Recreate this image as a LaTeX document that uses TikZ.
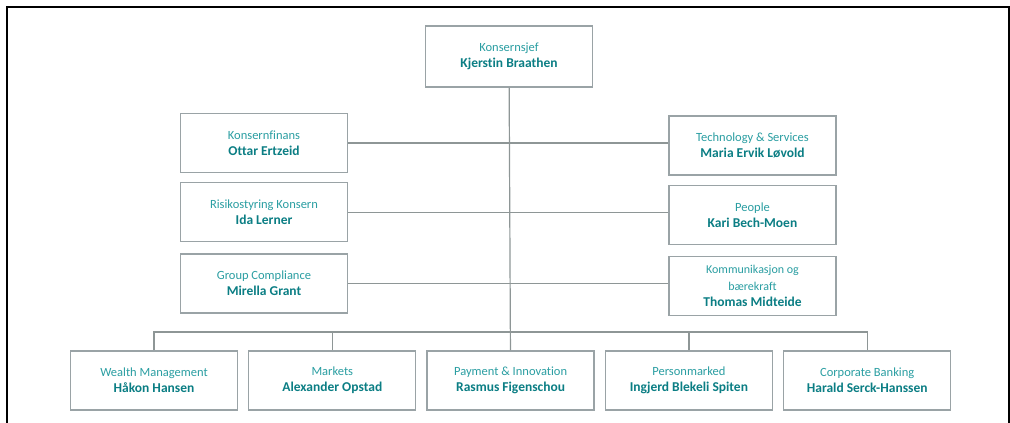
\documentclass[tikz,border=0pt]{standalone}
\usepackage{fontspec}
\setmainfont{Carlito}[Ligatures=NoCommon]
\usetikzlibrary{positioning}

\definecolor{boxgray}{HTML}{9AA3A6}
\definecolor{linegray}{HTML}{8E9696}
\definecolor{titleteal}{HTML}{2A9EA2}
\definecolor{nameteal}{HTML}{0B7E84}

\newcommand{\who}[1]{{\fontsize{13.5}{16}\selectfont\bfseries\color{nameteal}#1}}

\begin{document}
\begin{tikzpicture}[x=1pt,y=-1pt,node distance=10pt,
  unit/.style={draw=boxgray,line width=1.3pt,fill=white,minimum width=167pt,
    minimum height=59pt,inner sep=2pt,align=center,text=titleteal,
    font=\fontsize{12.5}{16}\selectfont},
  link/.style={draw=linegray,line width=1.2pt}]
\useasboundingbox (0,0) rectangle (1010,423);

% frame
\draw[line width=2pt] (7,423) -- (7,7) -- (1009,7) -- (1009,423);

% top
\node[unit,minimum height=61pt] (ceo) at (509,56.5) {Konsernsjef\\ \who{Kjerstin Braathen}};

% staff, left
\node[unit] (fin) at (264,143) {Konsernfinans\\ \who{Ottar Ertzeid}};
\node[unit,below=9pt of fin] (risk) {Risikostyring Konsern\\ \who{Ida Lerner}};
\node[unit,below=11pt of risk] (comp) {Group Compliance\\ \who{Mirella Grant}};

% staff, right
\node[unit] (tech) at (752.5,145.5) {Technology \& Services\\ \who{Maria Ervik Løvold}};
\node[unit,below=9pt of tech] (ppl) {People\\ \who{Kari Bech-Moen}};
\node[unit,below=11pt of ppl,font=\fontsize{12}{16.5}\selectfont] (komm) {Kommunikasjon og\\ bærekraft\\ \who{Thomas Midteide}};

% business areas
\node[unit] (wm) at (154,380.5) {Wealth Management\\ \who{Håkon Hansen}};
\node[unit,right=of wm] (mkt) {Markets\\ \who{Alexander Opstad}};
\node[unit,right=of mkt] (pay) {Payment \& Innovation\\ \who{Rasmus Figenschou}};
\node[unit,right=of pay] (pm) {Personmarked\\ \who{Ingjerd Blekeli Spiten}};
\node[unit,right=of pm] (cb) {Corporate Banking\\ \who{Harald Serck-Hanssen}};

\coordinate (bus) at (509,332);

\draw[link] (ceo) -- (pay);
\draw[link] (fin.east) -- (fin.east -| tech.west);
\draw[link] (risk.east) -- (risk.east -| ppl.west);
\draw[link] (comp.east) -- (comp.east -| komm.west);
\draw[link] (wm.north) |- (bus) -| (cb.north);
\draw[link] (mkt.north) -- (mkt.north |- bus);
\draw[link] (pm.north) -- (pm.north |- bus);

\end{tikzpicture}
\end{document}
